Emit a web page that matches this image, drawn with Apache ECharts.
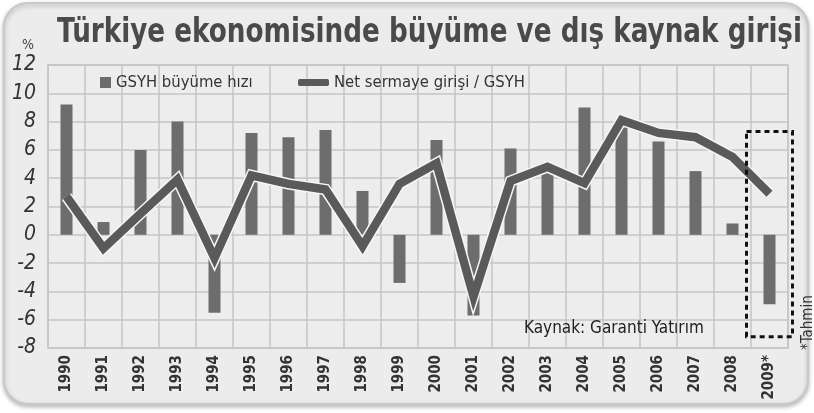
<!DOCTYPE html>
<html>
<head>
<meta charset="utf-8">
<script src="https://cdn.jsdelivr.net/npm/echarts@6/dist/echarts.min.js"></script>
<style>
html, body { margin: 0; padding: 0; background: #fff; }
#chart { width: 814px; height: 413px; }
</style>
</head>
<body>
<div id="chart"></div>
<script>
// veriler
var years = ["1990", "1991", "1992", "1993", "1994", "1995", "1996", "1997", "1998", "1999",
	"2000", "2001", "2002", "2003", "2004", "2005", "2006", "2007", "2008", "2009*"];
var growth = [9.2, 0.9, 6.0, 8.0, -5.5, 7.2, 6.9, 7.4, 3.1, -3.4,
	6.7, -5.7, 6.1, 5.0, 9.0, 7.6, 6.6, 4.5, 0.8, -4.9];
var capital = [2.7, -0.95, 1.5, 3.9, -1.65, 4.2, 3.6, 3.2, -0.8, 3.6,
	5.05, -4.35, 3.8, 4.8, 3.65, 8.1, 7.2, 6.9, 5.5, 2.9];
var seriesNames = ["GSYH büyüme hızı", "Net sermaye girişi / GSYH"];
var titleText = "Türkiye ekonomisinde büyüme ve dış kaynak girişi";
var estimateBox = [7.3, -7.2]; // 2009 tahmin kutusu, deger ekseninde ust / alt

var narrow = "'DejaVu Sans Condensed', sans-serif";
var myChart = echarts.init(document.getElementById("chart"));

var option = {
	backgroundColor: "#ffffff",
	animation: false,
	legend: [{
		data: [seriesNames[0]],
		left: 95,
		top: 69,
		itemWidth: 11,
		itemHeight: 11,
		icon: "rect",
		textStyle: { fontFamily: narrow, fontSize: 16.5, color: "#333" }
	}, {
		data: [seriesNames[1]],
		left: 293,
		top: 69,
		itemWidth: 31,
		itemHeight: 7,
		icon: "roundRect",
		textStyle: { fontFamily: narrow, fontSize: 16.5, color: "#333" }
	}],
	grid: {
		left: 48,
		right: 26,
		top: 65,
		bottom: 65,
		show: true,
		backgroundColor: "#ededed",
		borderColor: "#c4c4c4",
		borderWidth: 1.5
	},
	xAxis: {
		type: "category",
		data: years,
		axisLine: { show: false },
		axisTick: { show: false },
		splitLine: {
			show: true,
			interval: 0,
			lineStyle: { color: "#c4c4c4", width: 1.5 }
		},
		axisLabel: {
			rotate: 90,
			interval: 0,
			margin: 7,
			fontFamily: narrow,
			fontWeight: "bold",
			fontSize: 15,
			color: "#333"
		}
	},
	yAxis: {
		type: "value",
		min: -8,
		max: 12,
		interval: 2,
		axisLine: { show: false },
		axisTick: { show: false },
		splitLine: { lineStyle: { color: "#c4c4c4", width: 1.5 } },
		axisLabel: {
			margin: 12,
			fontFamily: narrow,
			fontStyle: "italic",
			fontSize: 21,
			color: "#333"
		}
	},
	series: [{
		name: seriesNames[0],
		type: "bar",
		data: growth,
		barWidth: 12,
		itemStyle: { color: "#6d6d6d" },
		z: 2
	}, {
		name: "outline",
		type: "line",
		data: capital,
		symbol: "none",
		lineStyle: { color: "#f6f6f6", width: 11.5, join: "miter" },
		z: 3,
		silent: true
	}, {
		name: seriesNames[1],
		type: "line",
		data: capital,
		symbol: "none",
		itemStyle: { color: "#5a5a5a" },
		lineStyle: { color: "#5a5a5a", width: 8.5, join: "miter" },
		z: 4
	}]
};

myChart.setOption(option);

// baslik dar bir yaziyla: genislige gore yatay sikistir
var titleFont = "bold 33px " + narrow;
var ctx = document.createElement("canvas").getContext("2d");
ctx.font = titleFont;
var titleScale = 745 / ctx.measureText(titleText).width;

// panel, kutu ve notlar
var left = myChart.convertToPixel({ xAxisIndex: 0 }, years.length - 1);
var half = 23;
var boxTop = myChart.convertToPixel({ yAxisIndex: 0 }, estimateBox[0]);
var boxBottom = myChart.convertToPixel({ yAxisIndex: 0 }, estimateBox[1]);

myChart.setOption({
	graphic: [{
		type: "rect",
		z: -10,
		silent: true,
		shape: { x: 4, y: 3, width: 804, height: 401, r: 24 },
		style: {
			fill: "#ececec",
			stroke: "#c8c8c8",
			lineWidth: 2,
			shadowBlur: 4,
			shadowOffsetY: 2,
			shadowColor: "rgba(0,0,0,0.25)"
		}
	}, {
		type: "text",
		x: 57,
		y: 17,
		scaleX: titleScale,
		style: { text: titleText, font: titleFont, fill: "#4a4a4a" }
	}, {
		type: "text",
		left: 22,
		top: 38,
		style: { text: "%", fontFamily: narrow, fontSize: 14, fill: "#444" }
	}, {
		type: "text",
		left: 524,
		top: 320,
		z: 10,
		style: { text: "Kaynak: Garanti Yatırım", fontFamily: narrow, fontSize: 17, fill: "#222" }
	}, {
		type: "rect",
		z: 10,
		shape: { x: left - half, y: boxTop, width: half * 2, height: boxBottom - boxTop },
		style: { fill: "none", stroke: "#111", lineWidth: 3, lineDash: [5, 4] }
	}, {
		type: "text",
		x: 801,
		y: 350,
		rotation: Math.PI / 2,
		z: 10,
		style: { text: "*Tahmin", fontFamily: narrow, fontSize: 15, fill: "#333" }
	}]
});
</script>
</body>
</html>
